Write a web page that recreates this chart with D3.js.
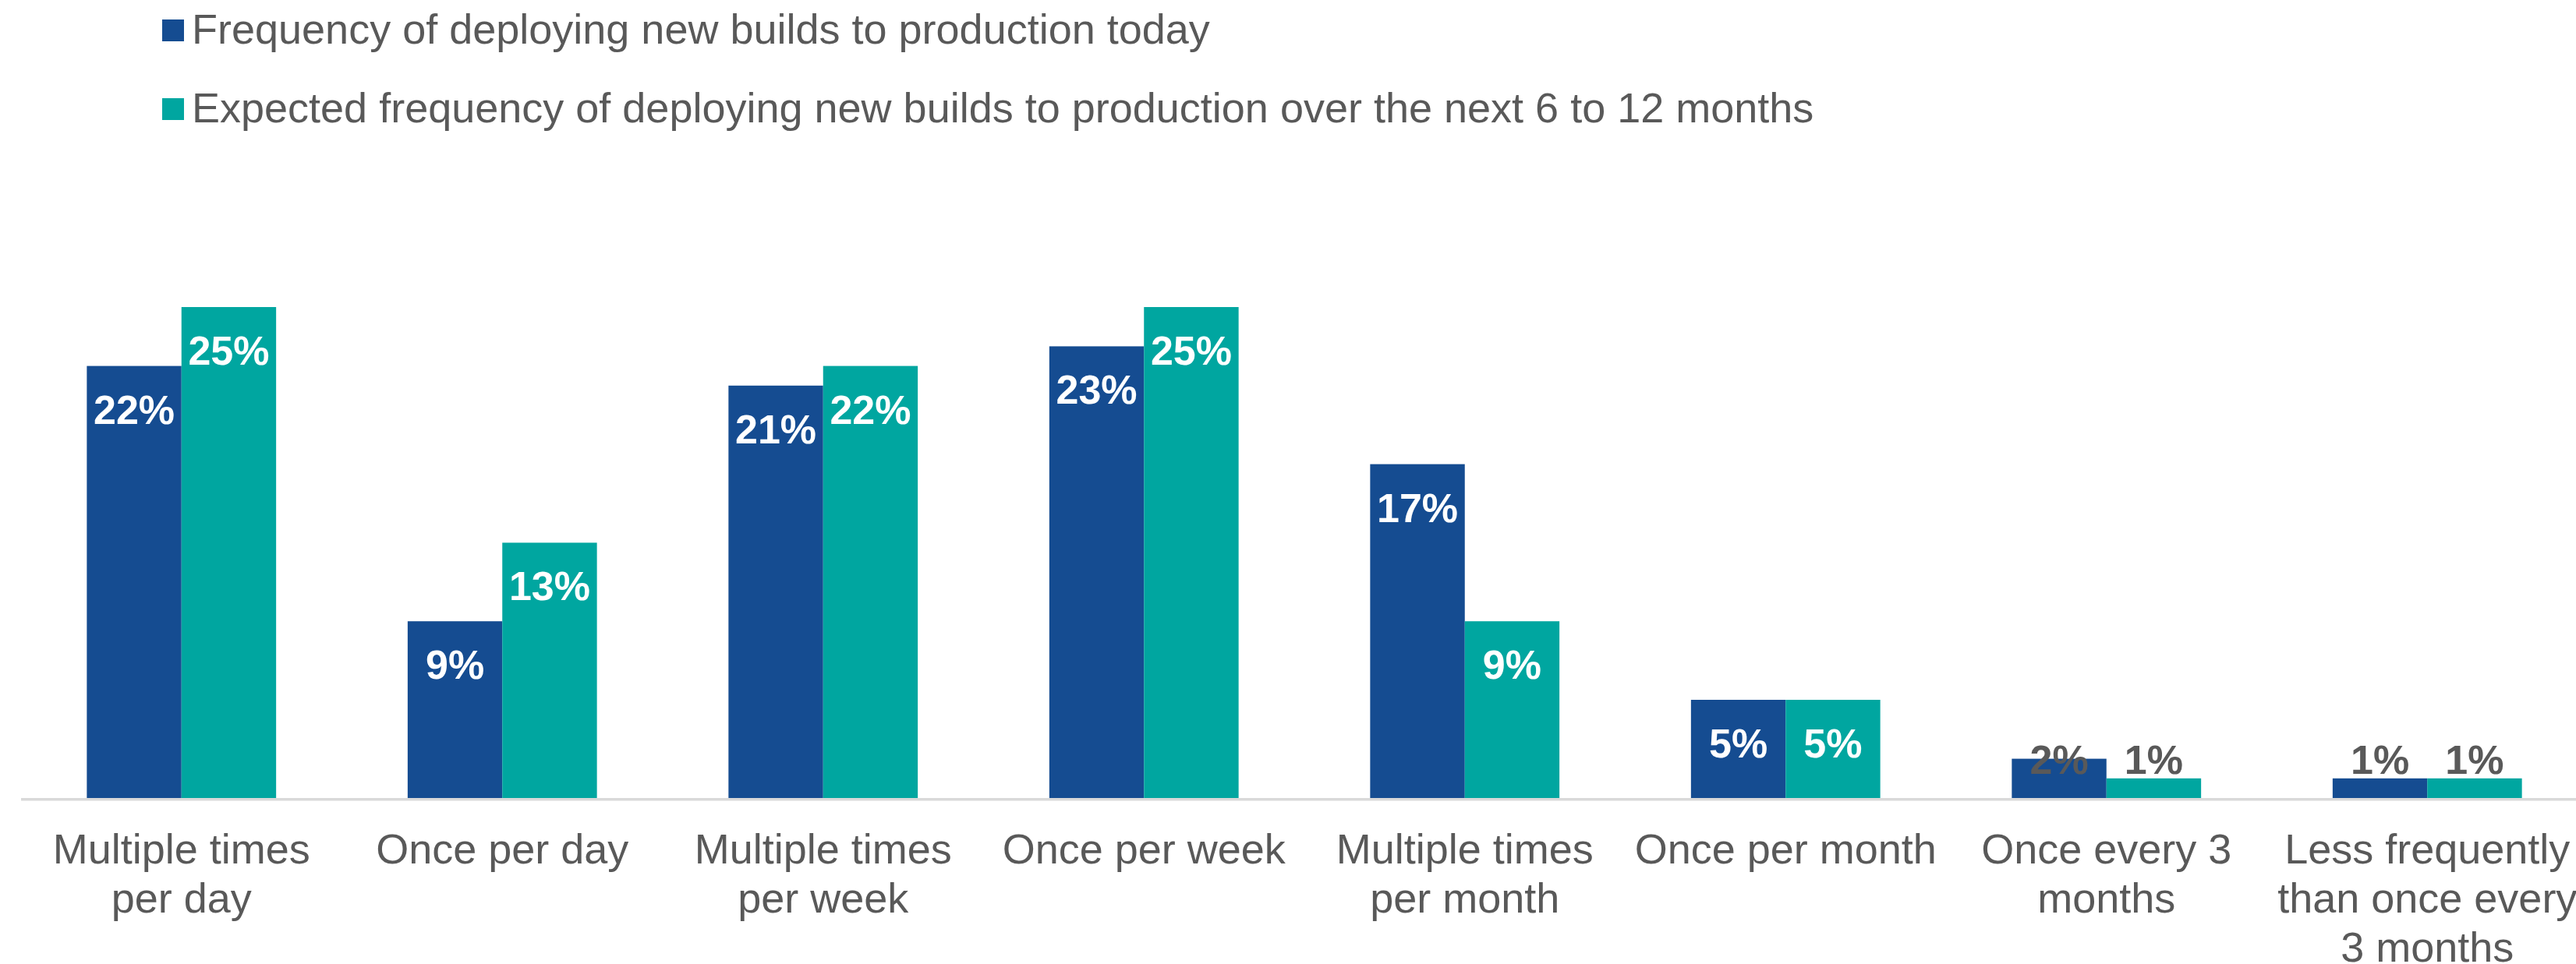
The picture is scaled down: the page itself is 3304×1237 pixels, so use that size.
<!DOCTYPE html>
<html>
<head>
<meta charset="utf-8">
<script src="https://cdn.jsdelivr.net/npm/d3@7"></script>
<style>
  html, body { margin: 0; padding: 0; background: #ffffff; }
  svg { display: block; font-family: "Liberation Sans", Arial, Helvetica, sans-serif; }
</style>
</head>
<body>
<svg id="chart" width="3304" height="1237"></svg>
<script>
// Deployment frequency categories
const categories = [
  "Multiple times per day",
  "Once per day",
  "Multiple times per week",
  "Once per week",
  "Multiple times per month",
  "Once per month",
  "Once every 3 months",
  "Less frequently than once every 3 months"
];

// Category labels as they wrap under the axis
const tickLabels = [
  ["Multiple times", "per day"],
  ["Once per day"],
  ["Multiple times", "per week"],
  ["Once per week"],
  ["Multiple times", "per month"],
  ["Once per month"],
  ["Once every 3", "months"],
  ["Less frequently", "than once every", "3 months"]
];

const seriesNames = [
  "Frequency of deploying new builds to production today",
  "Expected frequency of deploying new builds to production over the next 6 to 12 months"
];

// Percent of respondents
const todayValues    = [22, 9, 21, 23, 17, 5, 2, 1];
const expectedValues = [25, 13, 22, 25, 9, 5, 1, 1];

const colors = ["#154c91", "#00a6a0"];
const textGrey = "#595959";

const svg = d3.select("#chart");

const x = d3.scaleBand()
  .domain(categories)
  .range([27, 3319])
  .paddingInner(0.41)
  .paddingOuter(0.205);

const xs = d3.scaleBand()
  .domain(seriesNames)
  .range([0, x.bandwidth()]);

const y = d3.scaleLinear()
  .domain([0, 25])
  .range([1024, 394]);

const rows = categories.map((c, i) => ({
  category: c,
  values: [
    { series: seriesNames[0], value: todayValues[i], s: 0 },
    { series: seriesNames[1], value: expectedValues[i], s: 1 }
  ]
}));

// Bars
const groups = svg.append("g")
  .selectAll("g")
  .data(rows)
  .join("g")
  .attr("transform", d => `translate(${x(d.category)},0)`);

groups.selectAll("rect")
  .data(d => d.values)
  .join("rect")
  .attr("x", d => xs(d.series))
  .attr("y", d => y(d.value))
  .attr("width", xs.bandwidth())
  .attr("height", d => y(0) - y(d.value))
  .attr("fill", d => colors[d.s]);

// Axis line and category labels
const axis = svg.append("g")
  .attr("transform", `translate(0,${y(0) + 1.75})`)
  .call(d3.axisBottom(x).tickSize(0).tickSizeOuter(0).tickFormat(""));

axis.select(".domain")
  .attr("stroke", "#d9d9d9")
  .attr("stroke-width", 3.5)
  .attr("d", `M27,0H3304`);

axis.selectAll(".tick text").remove();
axis.selectAll(".tick").each(function(d, i) {
  const t = d3.select(this).append("text")
    .attr("fill", textGrey)
    .attr("font-size", 54)
    .attr("text-anchor", "middle")
    .attr("y", 82);
  tickLabels[i].forEach((line, j) => {
    t.append("tspan")
      .attr("x", 0)
      .attr("dy", j === 0 ? 0 : 63)
      .text(line);
  });
});

// Value labels: inside the bar end when they fit, above the bar otherwise
const fits = v => v >= 3;
groups.selectAll("text.value")
  .data(d => d.values)
  .join("text")
  .attr("class", "value")
  .attr("x", d => xs(d.series) + xs.bandwidth() / 2)
  .attr("y", d => fits(d.value) ? y(d.value) + 74 : y(1) - 6)
  .attr("text-anchor", "middle")
  .attr("font-size", 52)
  .attr("font-weight", "bold")
  .attr("fill", d => fits(d.value) ? "#ffffff" : textGrey)
  .text(d => d.value + "%");

// Legend
const legend = svg.append("g")
  .selectAll("g")
  .data(seriesNames)
  .join("g")
  .attr("transform", (d, i) => `translate(208,${56 + i * 101})`);

legend.append("rect")
  .attr("x", 0)
  .attr("y", -31)
  .attr("width", 28)
  .attr("height", 28)
  .attr("fill", (d, i) => colors[i]);

legend.append("text")
  .attr("x", 38)
  .attr("y", 0)
  .attr("font-size", 54)
  .attr("fill", textGrey)
  .text(d => d);
</script>
</body>
</html>
